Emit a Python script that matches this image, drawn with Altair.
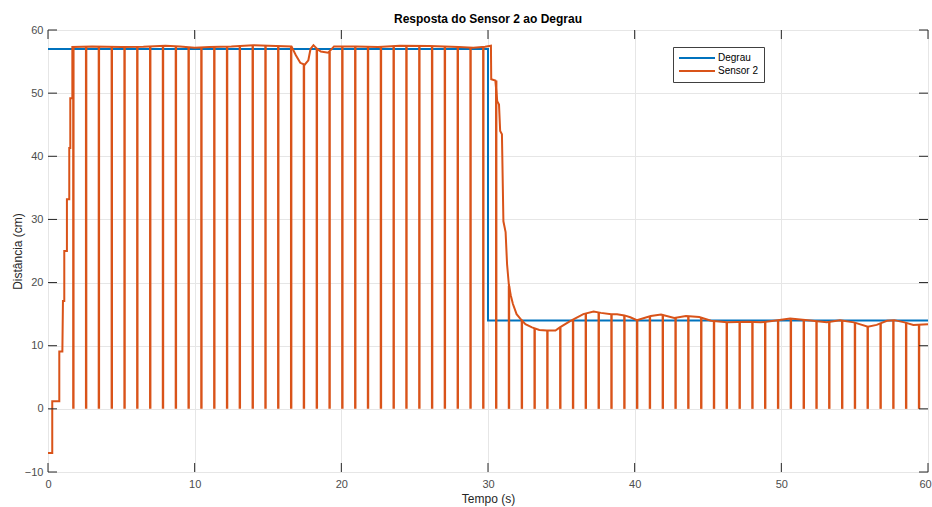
import altair as alt
import pandas as pd

# ---- data ----
degrau_t = [0, 30, 30, 60]
degrau_y = [57, 57, 14, 14]

sensor_t = [0, 0.29, 0.29, 0.77, 0.77, 0.98, 1.02, 1.11, 1.11, 1.29, 1.29, 1.45, 1.45, 1.52, 1.52, 1.66, 1.66,
            3.0, 5.0, 6.5, 8.0, 9.0, 10.0, 11.0, 12.5, 14.0, 15.0, 16.6, 16.9, 17.2, 17.5, 17.75, 17.9, 18.1,
            18.35, 18.6, 19.1, 19.35, 19.5, 21.0, 22.5, 24.0, 26.0, 28.0, 29.0, 29.8, 30.2,
            30.22, 30.5, 30.63, 30.75, 30.83, 30.95, 31.05, 31.2, 31.3, 31.42, 31.55, 31.7, 31.95, 32.2,
            32.55, 33.0, 33.5, 34.0, 34.6, 34.9, 35.6, 36.5, 37.2, 37.7, 38.4, 38.8, 39.3, 39.7, 40.15,
            41.1, 41.8, 42.7, 43.5, 44.4, 45.2, 46.3, 47.7, 48.6, 49.5, 50.6, 51.8, 53.1, 54.0, 54.95,
            55.9, 56.5, 57.2, 57.7, 58.4, 59.0, 60.0]
sensor_y = [-7, -7, 1.2, 1.2, 9.1, 9.1, 17.1, 17.1, 25, 25, 33.2, 33.2, 41.3, 41.3, 49.2, 49.2, 57.3,
            57.4, 57.3, 57.35, 57.5, 57.4, 57.2, 57.3, 57.4, 57.6, 57.5, 57.4, 56.0, 54.8, 54.5, 55.2, 57.0, 57.6,
            57.0, 56.6, 56.4, 57.0, 57.4, 57.4, 57.3, 57.5, 57.45, 57.3, 57.2, 57.35, 57.5,
            52.2, 52.0, 48.7, 48.2, 44.0, 43.5, 29.7, 28.0, 22.9, 19.7, 18.0, 16.6, 15.0, 14.3,
            13.4, 12.9, 12.5, 12.4, 12.4, 12.9, 13.9, 15.0, 15.4, 15.2, 15.0, 15.0, 14.8, 14.5, 14.05,
            14.7, 14.95, 14.4, 14.7, 14.55, 13.95, 13.7, 13.8, 13.7, 13.95, 14.3, 14.05, 13.7, 14.05, 13.7,
            13.0, 13.3, 13.95, 14.05, 13.7, 13.3, 13.4]

spike_t = [1.73, 2.60, 3.47, 4.35, 5.22, 6.09, 6.97, 7.84, 8.72, 9.59, 10.46, 11.34, 12.21, 13.08,
           13.96, 14.83, 15.70, 16.58, 17.45, 18.33, 19.20, 20.07, 20.95, 21.82, 22.70, 23.57, 24.44,
           25.32, 26.19, 27.06, 27.94, 28.81, 29.68, 30.56, 31.43, 32.31, 33.18, 34.05, 34.93, 35.80,
           36.67, 37.55, 38.42, 39.30, 40.17, 41.04, 41.92, 42.79, 43.66, 44.54, 45.41, 46.28, 47.16,
           48.03, 48.90, 49.78, 50.65, 51.53, 52.40, 53.27, 54.15, 55.02, 55.89, 56.77, 57.64, 58.51, 59.39]
spike_top = [57.3, 57.4, 57.4, 57.4, 57.4, 57.4, 57.4, 57.5, 57.4, 57.3, 57.3, 57.3, 57.4, 57.5,
             57.6, 57.5, 57.5, 57.4, 54.5, 57.1, 56.6, 57.4, 57.4, 57.4, 57.3, 57.4, 57.5,
             57.5, 57.4, 57.4, 57.3, 57.2, 57.3, 52.0, 19.5, 14.1, 12.8, 12.4, 12.9, 14.1,
             15.1, 15.3, 15.0, 14.8, 14.05, 14.7, 14.9, 14.4, 14.7, 14.5, 13.9, 13.7, 13.75,
             13.8, 13.75, 14.05, 14.3, 14.1, 13.9, 13.75, 14.0, 13.7, 13.0, 13.5, 14.05, 13.65, 13.3]
spike_base = [0] * len(spike_t)

x_ticks = [0, 10, 20, 30, 40, 50, 60]
y_ticks = [-10, 0, 10, 20, 30, 40, 50, 60]

series_names = ["Degrau", "Sensor 2"]
series_colors = ["#0072BD", "#D95319"]

# ---- tables ----
rows = []
for i, (t, y) in enumerate(zip(degrau_t, degrau_y)):
    rows.append({"t": t, "y": y, "serie": "Degrau", "i": i})
for i, (t, y) in enumerate(zip(sensor_t, sensor_y)):
    rows.append({"t": t, "y": y, "serie": "Sensor 2", "i": i})
line_df = pd.DataFrame(rows)
spike_df = pd.DataFrame({"t": spike_t, "top": spike_top, "base": spike_base})
xt_df = pd.DataFrame({"t": x_ticks})
yt_df = pd.DataFrame({"y": y_ticks})

W, H = 880, 442
FONT = "Liberation Sans"
TL = 9

x_scale = alt.Scale(domain=[0, 60], nice=False, zero=False)
y_scale = alt.Scale(domain=[-10, 60], nice=False, zero=False)

x_axis = alt.Axis(title="Tempo (s)", values=x_ticks, format="d", grid=True, gridColor="#e6e6e6",
                  domain=False, ticks=False, labelPadding=6, labelFontSize=11, labelFont=FONT,
                  labelColor="#4d4d4d", labelFlush=False,
                  labelOffset=alt.ExprRef("datum.value == 60 ? -3 : 0"),
                  titleFont=FONT, titleFontSize=12,
                  titleFontWeight="normal", titleColor="#262626", titlePadding=4)
y_axis = alt.Axis(title="Distância (cm)", values=y_ticks, format="d", grid=True, gridColor="#e6e6e6",
                  domain=False, ticks=False, labelPadding=5, labelFontSize=11, labelFont=FONT,
                  labelColor="#4d4d4d", labelFlush=False, titleFont=FONT, titleFontSize=12,
                  titleFontWeight="normal", titleColor="#262626", titlePadding=0)

X = lambda f: alt.X(f, scale=x_scale, axis=x_axis)
Y = lambda f: alt.Y(f, scale=y_scale, axis=y_axis)

lines = alt.Chart(line_df).mark_line(strokeWidth=2).encode(
    x=X("t:Q"),
    y=Y("y:Q"),
    color=alt.Color("serie:N", scale=alt.Scale(domain=series_names, range=series_colors),
                    legend=alt.Legend(title=None, orient="none", legendX=625, legendY=17,
                                      direction="vertical", symbolType="stroke", symbolSize=1296,
                                      symbolStrokeWidth=2, clipHeight=12, rowPadding=1, padding=5,
                                      labelFont=FONT, labelFontSize=10, labelColor="#000000",
                                      labelOffset=2, strokeColor="#404040", fillColor="white")),
    order=alt.Order("i:Q"),
)

spikes = alt.Chart(spike_df).mark_rule(color="#D95319", strokeWidth=2.4).encode(
    x=X("t:Q"), y=Y("base:Q"), y2="top:Q"
)

tick_mark = dict(color="#262626", strokeWidth=1)
top_ticks = alt.Chart(xt_df).mark_rule(**tick_mark).encode(x=X("t:Q"), y=alt.value(0), y2=alt.value(TL))
bot_ticks = alt.Chart(xt_df).mark_rule(**tick_mark).encode(x=X("t:Q"), y=alt.value(H - TL), y2=alt.value(H))
left_ticks = alt.Chart(yt_df).mark_rule(**tick_mark).encode(y=Y("y:Q"), x=alt.value(0), x2=alt.value(TL))
right_ticks = alt.Chart(yt_df).mark_rule(**tick_mark).encode(y=Y("y:Q"), x=alt.value(W - TL), x2=alt.value(W))

chart = alt.layer(lines, spikes, top_ticks, bot_ticks, left_ticks, right_ticks).properties(
    width=W, height=H,
    title=alt.Title("Resposta do Sensor 2 ao Degrau", fontSize=12, fontWeight="bold", font=FONT,
                    color="#000000", anchor="middle", offset=-2),
    padding={"left": 48, "top": 30, "right": 4, "bottom": 35},
    autosize=alt.AutoSizeParams(type="none"),
).configure_view(stroke="#262626", strokeWidth=1).configure(background="white")

chart.save("out.html", embed_options={"renderer": "svg", "actions": False})
